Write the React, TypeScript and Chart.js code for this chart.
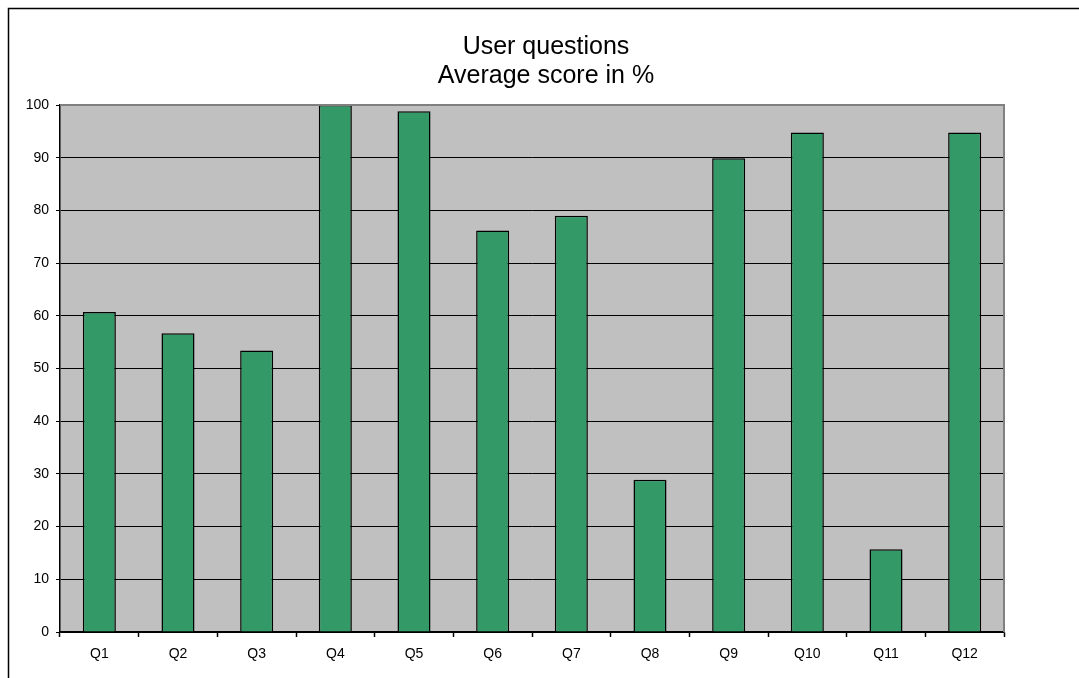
import React, { useEffect, useRef } from "react";
import { Chart, registerables } from "chart.js";

Chart.register(...registerables);

const categories = ["Q1", "Q2", "Q3", "Q4", "Q5", "Q6", "Q7", "Q8", "Q9", "Q10", "Q11", "Q12"];
const scores = [60.7, 56.7, 53.4, 100, 98.8, 76.2, 79.0, 28.9, 89.9, 94.8, 15.7, 94.8];
const titleLines = ["User questions", "Average score in %"];

const FONT = "'Liberation Sans', Arial, sans-serif";

const framePlugin = {
  id: "frame",
  beforeDraw(chart: any) {
    const { ctx, chartArea } = chart;
    ctx.save();
    ctx.fillStyle = "#ffffff";
    ctx.fillRect(0, 0, chart.width, chart.height);
    ctx.fillStyle = "#C0C0C0";
    ctx.fillRect(chartArea.left, chartArea.top, chartArea.right - chartArea.left, chartArea.bottom - chartArea.top);
    // outer frame
    ctx.strokeStyle = "#000";
    ctx.lineWidth = 1.5;
    ctx.beginPath();
    ctx.moveTo(8.5, chart.height + 2);
    ctx.lineTo(8.5, 8.5);
    ctx.lineTo(chart.width + 2, 8.5);
    ctx.stroke();
    // title
    ctx.fillStyle = "#000";
    ctx.font = "25px " + FONT;
    ctx.textAlign = "center";
    ctx.textBaseline = "middle";
    ctx.fillText(titleLines[0], 546, 47);
    ctx.fillText(titleLines[1], 546, 76);
    ctx.restore();
  },
  afterDatasetsDraw(chart: any) {
    const { ctx, chartArea } = chart;
    ctx.save();
    ctx.strokeStyle = "#808080";
    ctx.lineWidth = 2;
    ctx.beginPath();
    ctx.moveTo(chartArea.left, chartArea.top);
    ctx.lineTo(chartArea.right, chartArea.top);
    ctx.lineTo(chartArea.right, chartArea.bottom);
    ctx.stroke();
    ctx.restore();
  },
};

export default function App() {
  const ref = useRef<HTMLCanvasElement | null>(null);
  useEffect(() => {
    if (!ref.current) return;
    const chart = new Chart(ref.current, {
      type: "bar",
      data: {
        labels: categories,
        datasets: [
          {
            data: scores,
            backgroundColor: "#339966",
            borderColor: "#000000",
            borderWidth: 1.5,
            barPercentage: 0.42,
            categoryPercentage: 1,
          },
        ],
      },
      options: {
        responsive: false,
        animation: false,
        events: [],
        layout: { padding: { left: 0, right: 75, top: 105, bottom: 6 } },
        plugins: { legend: { display: false }, title: { display: false }, tooltip: { enabled: false } },
        scales: {
          x: {
            offset: true,
            grid: { display: true, drawOnChartArea: false, drawTicks: true, tickLength: 5, color: "#000", tickColor: "#000", tickWidth: 1.5, offset: true },
            border: { display: true, color: "#000", width: 1.5 },
            ticks: { color: "#000", font: { family: FONT, size: 14 }, padding: 9, maxRotation: 0 },
            afterFit: (s: any) => { s.height = 40; },
          },
          y: {
            min: 0,
            max: 100,
            ticks: { stepSize: 10, color: "#000", font: { family: FONT, size: 14 }, padding: 7 },
            grid: {
              color: (c: any) => (c.tick && c.tick.value === 100 ? "rgba(0,0,0,0)" : "#000"),
              tickColor: "#000",
              tickLength: 4,
              drawTicks: true,
            },
            border: { display: true, color: "#000", width: 1.5 },
            afterFit: (s: any) => { s.width = 60; },
          },
        },
      },
      plugins: [framePlugin],
    });
    return () => chart.destroy();
  }, []);
  return (
    <div style={{ position: "fixed", left: 0, top: 0, width: 1079, height: 678 }}>
      <canvas ref={ref} width={1079} height={678} style={{ width: 1079, height: 678 }} />
    </div>
  );
}
